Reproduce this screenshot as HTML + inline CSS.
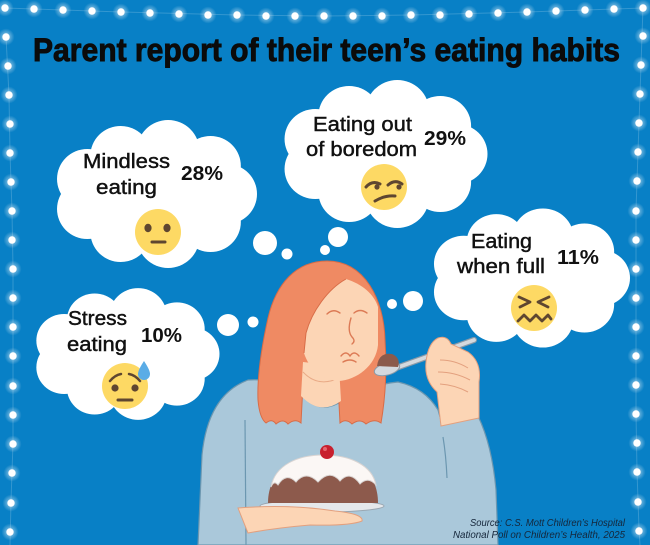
<!DOCTYPE html>
<html>
<head>
<meta charset="utf-8">
<style>
  html,body{margin:0;padding:0;background:#0880c6;}
  svg{display:block;}
</style>
</head>
<body>
<svg width="650" height="545" viewBox="0 0 650 545" xmlns="http://www.w3.org/2000/svg">
  <defs>
    <radialGradient id="glow">
      <stop offset="0" stop-color="#ffffff" stop-opacity="0.9"/>
      <stop offset="0.45" stop-color="#ffffff" stop-opacity="0.35"/>
      <stop offset="1" stop-color="#ffffff" stop-opacity="0"/>
    </radialGradient>
    <g id="L">
      <circle r="8.5" fill="url(#glow)"/>
      <circle r="3.7" fill="#ffffff"/>
    </g>
    <g id="cloud" fill="#ffffff">
      <ellipse cx="0" cy="0" rx="78" ry="52"/>
      <circle cx="70" cy="0" r="30"/>
      <circle cx="54" cy="28" r="30"/>
      <circle cx="12" cy="43" r="31"/>
      <circle cx="-35" cy="38" r="30"/>
      <circle cx="-68" cy="15" r="30"/>
      <circle cx="-68" cy="-15" r="30"/>
      <circle cx="-35" cy="-38" r="30"/>
      <circle cx="12" cy="-43" r="31"/>
      <circle cx="54" cy="-28" r="30"/>
    </g>
  </defs>

  <rect x="0" y="0" width="650" height="545" fill="#0880c6"/>

  <g fill="none" stroke="#ffffff" stroke-opacity="0.18" stroke-width="1">
    <polyline points="5,8 121,12 237,15 324,16 411,15 527,12 643,8"/>
    <polyline points="6,37 9,95 10,153 12,211 13,269 13,356 13,443 11,501 10,545"/>
    <polyline points="643,7 640,94 638,152 636,210 636,326 636,413 637,471 639,529 640,545"/>
  </g>

  <g>
    <use href="#L" x="5" y="8"/><use href="#L" x="34" y="9"/><use href="#L" x="63" y="10"/>
    <use href="#L" x="92" y="11"/><use href="#L" x="121" y="12"/><use href="#L" x="150" y="13"/>
    <use href="#L" x="179" y="14"/><use href="#L" x="208" y="15"/><use href="#L" x="237" y="15"/>
    <use href="#L" x="266" y="16"/><use href="#L" x="295" y="16"/><use href="#L" x="324" y="16"/>
    <use href="#L" x="353" y="16"/><use href="#L" x="382" y="16"/><use href="#L" x="411" y="15"/>
    <use href="#L" x="440" y="15"/><use href="#L" x="469" y="14"/><use href="#L" x="498" y="13"/>
    <use href="#L" x="527" y="12"/><use href="#L" x="556" y="11"/><use href="#L" x="585" y="10"/>
    <use href="#L" x="614" y="9"/><use href="#L" x="643" y="8"/>
  </g>
  <g>
    <use href="#L" x="6" y="37"/><use href="#L" x="8" y="66"/><use href="#L" x="9" y="95"/>
    <use href="#L" x="10" y="124"/><use href="#L" x="10" y="153"/><use href="#L" x="11" y="182"/>
    <use href="#L" x="12" y="211"/><use href="#L" x="12" y="240"/><use href="#L" x="13" y="269"/>
    <use href="#L" x="13" y="298"/><use href="#L" x="13" y="327"/><use href="#L" x="13" y="356"/>
    <use href="#L" x="13" y="386"/><use href="#L" x="13" y="415"/><use href="#L" x="13" y="444"/>
    <use href="#L" x="12" y="473"/><use href="#L" x="11" y="503"/><use href="#L" x="10" y="532"/>
  </g>
  <g>
    <use href="#L" x="643" y="36"/><use href="#L" x="641" y="65"/><use href="#L" x="640" y="94"/>
    <use href="#L" x="639" y="123"/><use href="#L" x="638" y="152"/><use href="#L" x="637" y="181"/>
    <use href="#L" x="636" y="211"/><use href="#L" x="636" y="240"/><use href="#L" x="636" y="269"/>
    <use href="#L" x="636" y="298"/><use href="#L" x="636" y="327"/><use href="#L" x="636" y="356"/>
    <use href="#L" x="636" y="385"/><use href="#L" x="636" y="414"/><use href="#L" x="637" y="443"/>
    <use href="#L" x="637" y="472"/><use href="#L" x="638" y="502"/><use href="#L" x="639" y="531"/>
  </g>

  <text x="33" y="61" font-family="Liberation Sans, Arial, sans-serif" font-weight="bold" font-size="32" fill="#0b0b0b" stroke="#0b0b0b" stroke-width="0.9" textLength="587" lengthAdjust="spacingAndGlyphs">Parent report of their teen’s eating habits</text>

  <use href="#cloud" transform="translate(156,194) scale(1.01,1)"/>
  <use href="#cloud" transform="translate(385,154) scale(1.025,1)"/>
  <use href="#cloud" transform="translate(531,278) scale(0.99,0.94)"/>
  <use href="#cloud" transform="translate(127,354) scale(0.925,0.89)"/>

  <g fill="#ffffff">
    <circle cx="265" cy="243" r="12"/>
    <circle cx="287" cy="254" r="5.5"/>
    <circle cx="338" cy="237" r="10"/>
    <circle cx="325" cy="250" r="5"/>
    <circle cx="413" cy="301" r="10"/>
    <circle cx="392" cy="304" r="5"/>
    <circle cx="228" cy="325" r="11"/>
    <circle cx="253" cy="322" r="5.5"/>
  </g>

  <g font-family="Liberation Sans, Arial, sans-serif" font-size="20" fill="#111111" stroke="#111111" stroke-width="0.45">
    <text x="83" y="168" textLength="87" lengthAdjust="spacingAndGlyphs">Mindless</text>
    <text x="96" y="194" textLength="61" lengthAdjust="spacingAndGlyphs">eating</text>
    <text x="313" y="131" textLength="99" lengthAdjust="spacingAndGlyphs">Eating out</text>
    <text x="306" y="156" textLength="111" lengthAdjust="spacingAndGlyphs">of boredom</text>
    <text x="471" y="248" textLength="61" lengthAdjust="spacingAndGlyphs">Eating</text>
    <text x="457" y="273" textLength="88" lengthAdjust="spacingAndGlyphs">when full</text>
    <text x="68" y="325" textLength="59" lengthAdjust="spacingAndGlyphs">Stress</text>
    <text x="67" y="351" textLength="60" lengthAdjust="spacingAndGlyphs">eating</text>
  </g>
  <g font-family="Liberation Sans, Arial, sans-serif" font-size="20" font-weight="bold" fill="#111111">
    <text x="181" y="180" textLength="42" lengthAdjust="spacingAndGlyphs">28%</text>
    <text x="424" y="145" textLength="42" lengthAdjust="spacingAndGlyphs">29%</text>
    <text x="557" y="264" textLength="42" lengthAdjust="spacingAndGlyphs">11%</text>
    <text x="141" y="342" textLength="41" lengthAdjust="spacingAndGlyphs">10%</text>
  </g>

  <g>
    <circle cx="158" cy="232" r="23" fill="#fdd964"/>
    <ellipse cx="148" cy="228" rx="3.6" ry="4.2" fill="#5e4630"/>
    <ellipse cx="167" cy="228" rx="3.6" ry="4.2" fill="#5e4630"/>
    <line x1="152" y1="242" x2="165" y2="242" stroke="#5e4630" stroke-width="3" stroke-linecap="round"/>
  </g>
  <g>
    <circle cx="384" cy="187" r="23" fill="#fdd964"/>
    <path d="M366 187 Q372 180 380 184" fill="none" stroke="#5e4630" stroke-width="3" stroke-linecap="round"/>
    <circle cx="377" cy="187" r="2.6" fill="#5e4630"/>
    <path d="M388 185 Q395 179 402 184" fill="none" stroke="#5e4630" stroke-width="3" stroke-linecap="round"/>
    <circle cx="399" cy="187" r="2.6" fill="#5e4630"/>
    <path d="M375 201 Q385 195 395 196" fill="none" stroke="#5e4630" stroke-width="3" stroke-linecap="round"/>
  </g>
  <g>
    <circle cx="534" cy="308" r="23" fill="#fdd964"/>
    <path d="M519 297 L530 302 L520 307" fill="none" stroke="#5e4630" stroke-width="2.8" stroke-linecap="round" stroke-linejoin="round"/>
    <path d="M549 297 L538 302 L548 307" fill="none" stroke="#5e4630" stroke-width="2.8" stroke-linecap="round" stroke-linejoin="round"/>
    <path d="M518 321 L524 315 L530 321 L536 315 L542 321 L548 315 L551 319" fill="none" stroke="#5e4630" stroke-width="2.8" stroke-linecap="round" stroke-linejoin="round"/>
  </g>
  <g>
    <circle cx="125" cy="386" r="23" fill="#fdd964"/>
    <path d="M110 381 Q115 375 121 374" fill="none" stroke="#5e4630" stroke-width="2.5" stroke-linecap="round"/>
    <path d="M129 374 Q135 375 140 381" fill="none" stroke="#5e4630" stroke-width="2.5" stroke-linecap="round"/>
    <circle cx="115" cy="388" r="3.6" fill="#5e4630"/>
    <circle cx="135" cy="388" r="3.6" fill="#5e4630"/>
    <line x1="118" y1="400" x2="132" y2="400" stroke="#5e4630" stroke-width="3" stroke-linecap="round"/>
    <path d="M144 361 Q150 370 150 374 A6 6 0 0 1 138 374 Q138 370 144 361 Z" fill="#5aace6"/>
  </g>

  <path d="M300 394 Q320 416 342 401 Q372 384 398 382 Q425 388 438 410 L442 424 L478 416 Q492 445 496 490 L498 545 L198 545 L202 455 Q208 395 248 380 Q278 378 300 394 Z" fill="#aac8da" stroke="#6c97b0" stroke-width="1.2"/>
  <path d="M245 420 L246 545" stroke="#6c97b0" stroke-width="1.2" fill="none"/>
  <path d="M443 437 Q446 455 447 478" stroke="#6c97b0" stroke-width="1.2" fill="none"/>
  <path d="M440 422 L479 416" stroke="#6c97b0" stroke-width="1.2" fill="none"/>

  <path d="M327 261 C296 261 276 284 268 318 C262 345 257 375 258 400 C259 412 262 420 266 423 Q272 418 276 424 Q283 418 288 424 Q295 418 301 423 L303 384 L338 384 L340 423 Q346 418 352 424 Q360 418 366 424 Q374 418 381 423 C385 400 387 370 385 340 C384 300 365 261 327 261 Z" fill="#ef8a63" stroke="#d86c47" stroke-width="1"/>

  <path d="M303 362 L301 396 Q320 416 341 401 L339 366 Z" fill="#fcd5b5"/>
  <path d="M303 372 Q318 388 339 378" fill="none" stroke="#e9aa86" stroke-width="1"/>

  <path d="M346 279 C362 284 374 294 378 307 L378 345 C376 366 356 380 339 381 C322 380 309 369 304 353 L306 333 C312 311 328 289 346 279 Z" fill="#fcd5b5"/>
  <path d="M346 279 C328 289 312 311 306 333 L304 353" fill="none" stroke="#d86c47" stroke-width="1"/>
  <g fill="none" stroke="#dc7a55" stroke-width="1.4" stroke-linecap="round">
    <path d="M327 314 Q333 308 340 313"/>
    <path d="M354 313 Q360 308 367 313"/>
    <path d="M351 318 Q347 331 352 337 Q356 341 352 344"/>
    <path d="M341 356 Q346 350 350 356 Q354 350 359 356"/>
    <path d="M343 362 Q350 358 356 362"/>
  </g>

  <line x1="396" y1="368" x2="474" y2="340" stroke="#8a9aa8" stroke-width="6" stroke-linecap="round"/>
  <line x1="396" y1="368" x2="474" y2="340" stroke="#d4d9de" stroke-width="3.8" stroke-linecap="round"/>
  <ellipse cx="387" cy="369" rx="13" ry="6" transform="rotate(-15 387 369)" fill="#d4d9de" stroke="#8a9aa8" stroke-width="1"/>
  <path d="M377 366 Q379 352 392 354 Q401 358 398 367 Z" fill="#8b5a4b"/>

  <path d="M441 426 L437 392 Q424 380 426 362 Q428 343 438 338 Q447 335 451 344 L468 352 Q482 362 479 382 L479 418 Z" fill="#fcd5b5" stroke="#e3a07e" stroke-width="1"/>
  <g fill="none" stroke="#e3a07e" stroke-width="1">
    <path d="M440 360 Q455 360 468 368"/>
    <path d="M438 372 Q455 372 470 380"/>
    <path d="M440 384 Q455 385 468 392"/>
  </g>

  <ellipse cx="322" cy="506" rx="62" ry="6" fill="#e5e8eb" stroke="#9aa7b2" stroke-width="1"/>
  <path d="M268 503 C268 470 295 455 323 455 C352 455 378 470 378 503 Z" fill="#8d5a4c"/>
  <path d="M271 487 C275 465 298 455 323 455 C350 455 372 465 376 485 Q368 476 360 484 Q350 470 340 481 Q330 469 318 482 Q306 470 296 482 Q286 472 278 485 Q274 480 271 487 Z" fill="#fbf7f5" stroke="#d9d4d2" stroke-width="1"/>
  <circle cx="327" cy="452" r="7" fill="#c8202e"/>
  <circle cx="325" cy="449" r="2" fill="#e5656e"/>

  <path d="M238 508 Q290 504 335 511 Q364 514 362 521 Q350 526 310 525 Q275 528 248 533 Z" fill="#fcd5b5" stroke="#e3a07e" stroke-width="1"/>

  <g font-family="Liberation Sans, Arial, sans-serif" font-style="italic" font-size="10" fill="#15263a">
    <text x="470" y="526" textLength="155" lengthAdjust="spacingAndGlyphs">Source: C.S. Mott Children’s Hospital</text>
    <text x="453" y="538" textLength="172" lengthAdjust="spacingAndGlyphs">National Poll on Children’s Health, 2025</text>
  </g>
</svg>
</body>
</html>
